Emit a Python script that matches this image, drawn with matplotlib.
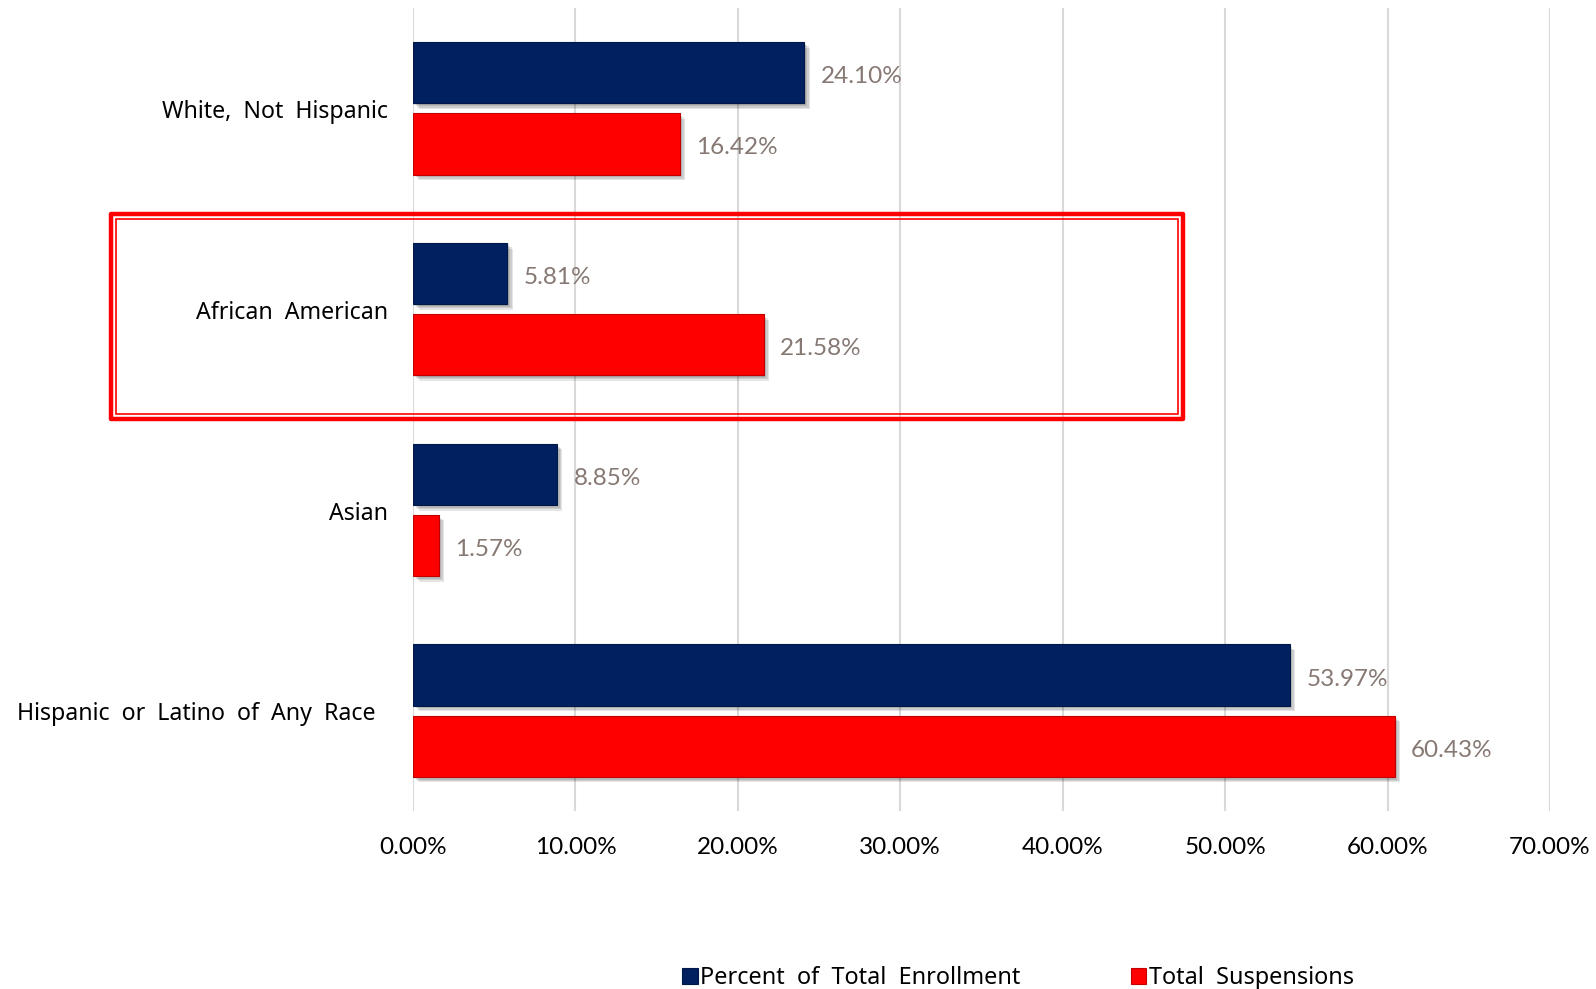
"""
Enrollment share vs. suspension share by race/ethnicity
"""
import matplotlib
matplotlib.use("Agg")
import matplotlib.pyplot as plt
import matplotlib.patheffects as pe
from matplotlib.patches import Rectangle
from matplotlib.ticker import FuncFormatter
import numpy as np

# data
groups = ["White,  Not  Hispanic", "African  American", "Asian",
          "Hispanic  or  Latino  of  Any  Race"]
enrollment = [24.10, 5.81, 8.85, 53.97]
suspensions = [16.42, 21.58, 1.57, 60.43]
x_ticks = [0, 10, 20, 30, 40, 50, 60, 70]

blue = "#002060"
red = "#FF0000"
label_col = "#867872"

fig = plt.figure(figsize=(15.96, 9.89), dpi=100)
ax = fig.add_axes([413 / 1596, 178 / 989, (1550 - 413) / 1596, 803 / 989])

y = np.arange(len(groups))
h = 0.305
off = 0.177
# soft drop shadow built from a few faint offset copies
shadow = [pe.SimplePatchShadow(offset=(d, -d), shadow_rgbFace="black", alpha=0.10)
          for d in (1, 2, 3, 4)] + [pe.Normal()]

b1 = ax.barh(y - off, enrollment, height=h, color=blue, edgecolor="#001848",
             linewidth=0.8, label="Percent  of  Total  Enrollment", zorder=3)
b2 = ax.barh(y + off, suspensions, height=h, color=red, edgecolor="#C00000",
             linewidth=0.8, label="Total  Suspensions", zorder=3)
for bars in (b1, b2):
    for p in bars:
        p.set_path_effects(shadow)

# value labels
for bars, vals in ((b1, enrollment), (b2, suspensions)):
    for p, v in zip(bars, vals):
        ax.annotate(f"{v:.2f}%", (v, p.get_y() + p.get_height() / 2),
                    xytext=(12, -1.5), textcoords="offset points",
                    ha="left", va="center_baseline", fontsize=17.5, family="Lato",
                    color=label_col)

# category labels (the long one sits a bit further left)
for yi, g in zip(y, groups):
    dx = -27 if g.startswith("Hispanic") else -18
    ax.annotate(g, (0, yi), xycoords=ax.get_yaxis_transform(),
                xytext=(dx, -0.6), textcoords="offset points",
                ha="right", va="center_baseline", family="Noto Sans", fontsize=16.7)

ax.set_xlim(0, 70)
ax.set_ylim(3.5, -0.5)
ax.set_xticks(x_ticks)
ax.xaxis.set_major_formatter(FuncFormatter(lambda v, _: f"{v:.2f}%"))
ax.set_yticks([])
for lab in ax.get_xticklabels():
    lab.set_family("Lato")
    lab.set_fontsize(17.5)
ax.tick_params(axis="x", length=0, pad=19)
ax.grid(axis="x", color="#D9D9D9", linewidth=1.5, zorder=0)
for s in ax.spines.values():
    s.set_visible(False)

# highlight box around the African American group
fig.patches.append(Rectangle((111 / 1596, 1 - 419 / 989), (1183 - 111) / 1596, 205 / 989,
                             transform=fig.transFigure, fill=False,
                             edgecolor=red, linewidth=3.2, joinstyle="round"))
fig.patches.append(Rectangle((116 / 1596, 1 - 414 / 989), (1178 - 116) / 1596, 195 / 989,
                             transform=fig.transFigure, fill=False,
                             edgecolor=red, linewidth=1.2))

leg = fig.legend(loc="center", bbox_to_anchor=(0.638, 11 / 989), ncol=2, frameon=False,
                 prop={"family": "Noto Sans", "size": 16.9}, handlelength=0.65,
                 handleheight=0.65, handletextpad=0.12, columnspacing=4.7)
for hd in leg.legend_handles:
    hd.set_path_effects([])

plt.savefig("out.png", dpi=100)
